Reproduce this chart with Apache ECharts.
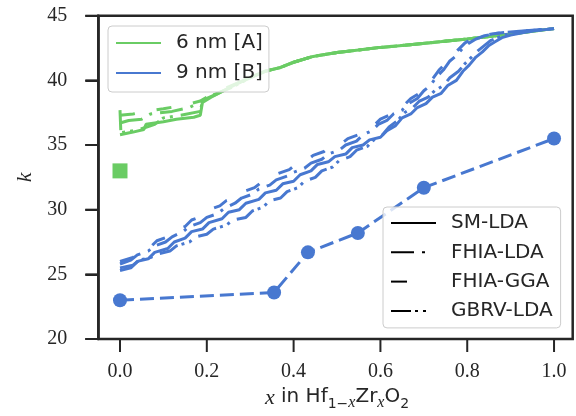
<!DOCTYPE html>
<html>
<head>
<meta charset="utf-8">
<script src="https://cdn.jsdelivr.net/npm/echarts@6/dist/echarts.min.js"></script>
<style>html,body{margin:0;padding:0;background:#fff}#c{width:576px;height:416px}</style>
</head>
<body>
<div id="c"></div>
<script>
// ---- data ----
const xTicks = [0.0, 0.2, 0.4, 0.6, 0.8, 1.0];
const yTicks = [20, 25, 30, 35, 40, 45];

const greenTail = [[0.334,40.7],[0.37,41.0],[0.4,41.4],[0.445,41.85],[0.5,42.15],[0.55,42.35],[0.6,42.55],[0.65,42.7],[0.714,42.9],[0.8,43.2],[0.88,43.5],[0.94,43.75],[1.0,44.0]];
const greenSM   = [[0,35.8],[0.03,36.0],[0.055,36.2],[0.06,36.6],[0.1,36.8],[0.13,37.0],[0.17,37.15],[0.185,37.3],[0.19,38.3],[0.21,38.7],[0.25,39.4],[0.29,40.1]];
const greenFLDA = [[0,36.7],[0.02,36.9],[0.05,37.0],[0.07,37.4],[0.12,37.6],[0.16,37.9],[0.2,38.6],[0.22,38.9],[0.26,39.6],[0.3,40.2]];
const greenFGGA = [[0,37.3],[0.03,37.4],[0.06,37.6],[0.1,37.8],[0.15,38.1],[0.185,38.4],[0.21,38.9],[0.25,39.5],[0.3,40.2]];
const greenGBRV = [[0,37.7],[0.002,35.95],[0.04,36.15],[0.08,36.6],[0.1,37.1],[0.14,37.3],[0.185,37.6],[0.19,38.4],[0.21,38.8],[0.26,39.5],[0.3,40.2]];

const blueSM = [[0,25.3],[0.025,25.5],[0.04,26.0],[0.065,26.2],[0.08,26.7],[0.11,27.0],[0.125,27.5],[0.15,27.8],[0.165,28.3],[0.19,28.5],[0.205,29.0],[0.235,29.3],[0.25,29.8],[0.275,30.0],[0.29,30.5],[0.32,30.8],[0.335,31.3],[0.36,31.5],[0.375,32.0],[0.4,32.2],[0.415,32.7],[0.44,33.0],[0.455,33.5],[0.48,33.7],[0.495,34.1],[0.52,34.3],[0.535,34.8],[0.56,35.0],[0.575,35.4],[0.6,35.6],[0.615,36.1],[0.635,36.5],[0.65,37.1],[0.67,37.4],[0.685,37.9],[0.705,38.2],[0.72,38.7],[0.74,39.0],[0.755,39.6],[0.775,40.0],[0.79,40.7],[0.805,41.2],[0.82,41.8],[0.835,42.2],[0.85,42.7],[0.865,43.0],[0.88,43.3],[0.9,43.5],[0.93,43.7],[0.96,43.85],[1.0,44.0]];
const blueGBRV = [[0,25.5],[0.03,25.7],[0.045,26.1],[0.07,26.3],[0.09,26.6],[0.115,26.8],[0.13,27.2],[0.16,27.5],[0.175,27.9],[0.2,28.1],[0.215,28.5],[0.245,28.8],[0.26,29.2],[0.29,29.4],[0.305,29.9],[0.33,30.2],[0.345,30.7],[0.37,30.9],[0.385,31.4],[0.41,31.7],[0.425,32.2],[0.45,32.5],[0.465,33.0],[0.49,33.3],[0.505,33.8],[0.53,34.1],[0.545,34.6],[0.57,34.9],[0.585,35.4],[0.605,35.8],[0.62,36.4],[0.64,36.9],[0.655,37.5],[0.675,37.9],[0.69,38.4],[0.71,38.7],[0.725,39.2],[0.745,39.6],[0.76,40.2],[0.78,40.7],[0.795,41.3],[0.81,41.8],[0.825,42.3],[0.84,42.7],[0.855,43.1],[0.87,43.3],[0.89,43.55],[0.92,43.75],[0.95,43.85],[1.0,44.0]];
const blueFLDA = [[0,25.8],[0.025,26.1],[0.04,26.5],[0.065,26.8],[0.08,27.2],[0.105,27.5],[0.12,27.9],[0.145,28.3],[0.16,28.7],[0.185,29.0],[0.2,29.4],[0.225,29.7],[0.24,30.1],[0.265,30.5],[0.28,30.9],[0.305,31.2],[0.32,31.6],[0.345,31.9],[0.36,32.3],[0.385,32.6],[0.4,32.9],[0.425,33.2],[0.44,33.6],[0.465,33.9],[0.48,34.3],[0.505,34.6],[0.52,35.0],[0.545,35.3],[0.56,35.8],[0.58,36.1],[0.595,36.6],[0.615,36.9],[0.63,37.4],[0.65,37.7],[0.665,38.2],[0.685,38.6],[0.7,39.2],[0.715,39.6],[0.73,40.3],[0.745,40.8],[0.76,41.5],[0.775,41.9],[0.79,42.5],[0.805,42.9],[0.82,43.2],[0.84,43.45],[0.87,43.65],[0.92,43.8],[1.0,44.0]];
const blueFGGA = [[0,26.0],[0.03,26.3],[0.045,26.8],[0.07,27.1],[0.085,27.6],[0.11,27.9],[0.125,28.4],[0.15,28.7],[0.165,29.2],[0.19,29.5],[0.205,30.0],[0.23,30.3],[0.245,30.7],[0.27,31.0],[0.285,31.4],[0.31,31.7],[0.325,32.1],[0.35,32.4],[0.365,32.8],[0.39,33.1],[0.405,33.5],[0.43,33.8],[0.445,34.2],[0.47,34.5],[0.485,34.9],[0.51,35.1],[0.525,35.5],[0.55,35.8],[0.565,36.2],[0.585,36.5],[0.6,37.0],[0.62,37.3],[0.635,37.8],[0.655,38.1],[0.67,38.6],[0.69,39.0],[0.705,39.6],[0.72,40.1],[0.735,40.8],[0.75,41.3],[0.765,41.9],[0.78,42.4],[0.795,42.9],[0.81,43.2],[0.83,43.45],[0.86,43.6],[0.9,43.75],[1.0,44.0]];

const exp9nm = [[0,23.0],[0.355,23.6],[0.433,26.7],[0.548,28.2],[0.70,31.7],[1.0,35.5]];
const exp6nm = [[0,33.0]];

// ---- layout / styles ----
const W = 576, H = 416;
const GL = 98.3, GR = 572.7, GT = 15.7, GB = 339;
const BLUE = '#4878d0', GREEN = '#6acc64', INK = '#262626';
const X_MIN = -0.05, X_MAX = 1.043, Y_MIN = 20, Y_MAX = 45;
const TICK_LEN = 13;
const dashSM = 'solid', dashFLDA = [23,8,3,8], dashFGGA = [15,22], dashGBRV = [20,4,3,5,3,8];

function curve(name, data, color, type) {
  return {name, type: 'line', data, symbol: 'none', showSymbol: false, silent: true,
    lineStyle: {color, width: 3, type}, itemStyle: {color}, z: 2};
}
function dummy(name, color, type) {
  return {name, type: 'line', data: [], symbol: 'none', lineStyle: {color, width: 3, type}, itemStyle: {color}};
}

const series = [
  curve('gFGGA', greenFGGA.concat(greenTail), GREEN, dashFGGA),
  curve('gFLDA', greenFLDA.concat(greenTail), GREEN, dashFLDA),
  curve('gGBRV', greenGBRV.concat(greenTail), GREEN, dashGBRV),
  curve('gSM', greenSM.concat(greenTail), GREEN, dashSM),
  curve('bFGGA', blueFGGA, BLUE, dashFGGA),
  curve('bFLDA', blueFLDA, BLUE, dashFLDA),
  curve('bGBRV', blueGBRV, BLUE, dashGBRV),
  curve('bSM', blueSM, BLUE, dashSM),
  {name: 'exp9', type: 'line', data: exp9nm, symbol: 'circle', symbolSize: 14, silent: true,
   lineStyle: {color: BLUE, width: 3, type: [14,6]}, itemStyle: {color: BLUE, opacity: 1}, z: 3},
  {name: 'exp6', type: 'scatter', data: exp6nm, symbol: 'rect', symbolSize: 15, silent: true,
   itemStyle: {color: GREEN, opacity: 1}, z: 3},
  dummy('6 nm [A]', GREEN, 'solid'),
  dummy('9 nm [B]', BLUE, 'solid'),
  dummy('SM-LDA', '#000', 'solid'),
  dummy('FHIA-LDA', '#000', [23,8,3,11]),
  dummy('FHIA-GGA', '#000', [16,40]),
  dummy('GBRV-LDA', '#000', [20,4,3,5,3,10])
];

const legendCommon = {
  orient: 'vertical', itemWidth: 45, itemHeight: 20,
  backgroundColor: 'rgba(255,255,255,0.8)', borderColor: '#cccccc', borderWidth: 1, borderRadius: 4,
  textStyle: {fontFamily: 'DejaVu Sans', fontSize: 20, color: INK, padding: [0,0,0,10]},
  itemStyle: {opacity: 0}, selectedMode: false
};

const chart = echarts.init(document.getElementById('c'), null, {renderer: 'canvas'});
chart.setOption({
  animation: false,
  backgroundColor: '#ffffff',
  grid: [
    {left: GL, right: W - GR, top: GT, bottom: H - GB, show: true, borderColor: INK, borderWidth: 2.5, backgroundColor: 'transparent', z: 4},
    {left: 120, right: 22, top: GT, bottom: H - GB, show: false}
  ],
  xAxis: [
    {
      type: 'value', gridIndex: 0, min: X_MIN, max: X_MAX,
      axisLine: {show: false, onZero: false}, splitLine: {show: false},
      axisTick: {show: false}, axisLabel: {show: false}
    },
    {
      type: 'value', gridIndex: 1, min: 0, max: 1, interval: 0.2,
      axisLine: {show: false, onZero: false}, splitLine: {show: false},
      axisTick: {show: false},
      axisLabel: {formatter: v => xTicks.some(t => Math.abs(t - v) < 1e-9) ? v.toFixed(1) : '', margin: 28,
        fontFamily: 'Liberation Serif', fontSize: 20, color: INK},
      name: '{mi|x}{s| in Hf}{sb|1−}{sbi|x}{s|Zr}{sbi|x}{s|O}{sb|2}',
      nameLocation: 'middle', nameGap: 53,
      nameTextStyle: {
        rich: {
          mi: {fontFamily: 'Liberation Serif', fontStyle: 'italic', fontSize: 22, color: INK, lineHeight: 20, verticalAlign: 'top'},
          s: {fontFamily: 'DejaVu Sans', fontSize: 20, color: INK, lineHeight: 20, verticalAlign: 'top'},
          sb: {fontFamily: 'DejaVu Sans', fontSize: 14, color: INK, lineHeight: 24, verticalAlign: 'bottom'},
          sbi: {fontFamily: 'Liberation Serif', fontStyle: 'italic', fontSize: 16, color: INK, lineHeight: 24, verticalAlign: 'bottom'}
        }
      }
    }
  ],
  yAxis: [
    {
      type: 'value', gridIndex: 0, min: Y_MIN, max: Y_MAX, interval: 5,
      axisLine: {show: true, onZero: false, lineStyle: {color: INK, width: 2.5}}, splitLine: {show: false},
      axisTick: {show: true, inside: false, length: TICK_LEN, lineStyle: {color: INK, width: 2}},
      axisLabel: {margin: 31, fontFamily: 'Liberation Serif', fontSize: 20, color: INK,
        formatter: v => yTicks.indexOf(v) >= 0 ? String(v) : ''},
      name: 'k', nameLocation: 'middle', nameGap: 59, nameRotate: 90,
      nameTextStyle: {fontFamily: 'Liberation Serif', fontStyle: 'italic', fontSize: 22, color: INK}
    },
    {
      type: 'value', gridIndex: 1, min: Y_MIN, max: Y_MAX, show: false,
      axisLine: {show: false, onZero: false}, splitLine: {show: false}, axisTick: {show: false}, axisLabel: {show: false}
    }
  ],
  legend: [
    Object.assign({}, legendCommon, {data: ['6 nm [A]', '9 nm [B]'], left: 108, top: 26, itemGap: 10, padding: [7, 6, 9, 7]}),
    Object.assign({}, legendCommon, {data: ['SM-LDA', 'FHIA-LDA', 'FHIA-GGA', 'GBRV-LDA'], left: 383, top: 207, itemGap: 9.3, padding: [6, 8, 7, 7]})
  ],
  series
});

// outward tick marks, positioned through the plot's own scales
try {
  const finder = {xAxisIndex: 0, yAxisIndex: 0};
  const els = [];
  xTicks.forEach(t => {
    const p = chart.convertToPixel(finder, [t, Y_MIN]);
    els.push({type: 'line', silent: true, z: 100, shape: {x1: p[0], y1: p[1], x2: p[0], y2: p[1] + TICK_LEN},
      style: {stroke: INK, lineWidth: 2}});
  });
  yTicks.forEach(v => {
    const p = chart.convertToPixel(finder, [X_MIN, v]);
    els.push({type: 'line', silent: true, z: 100, shape: {x1: p[0] - TICK_LEN, y1: p[1], x2: p[0], y2: p[1]},
      style: {stroke: INK, lineWidth: 2}});
  });
  chart.setOption({graphic: {elements: els}});
} catch (e) { console.error(e); }
</script>
</body>
</html>
